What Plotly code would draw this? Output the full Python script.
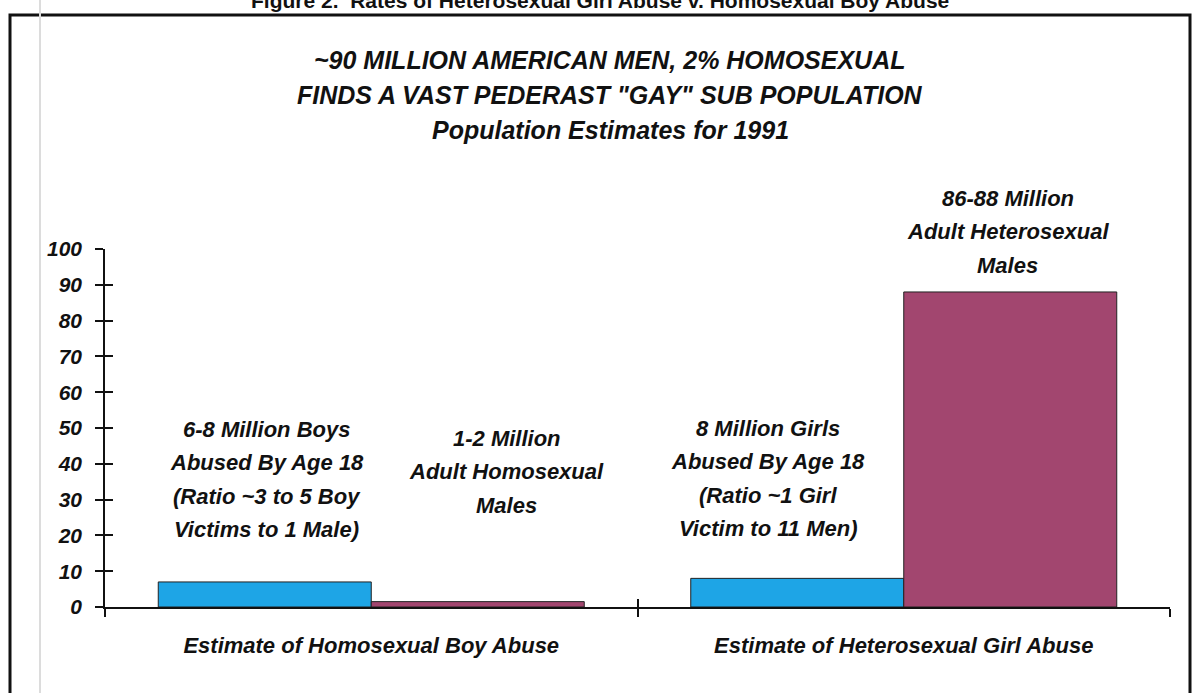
import plotly.graph_objects as go

# ---- data ----
categories = ["Estimate of Homosexual Boy Abuse", "Estimate of Heterosexual Girl Abuse"]
victims = [7, 8]          # blue series (millions)
perpetrators = [1.5, 88]  # magenta series (millions)
y_ticks = [0, 10, 20, 30, 40, 50, 60, 70, 80, 90, 100]

title_lines = [
    "~90 MILLION AMERICAN MEN, 2% HOMOSEXUAL",
    "FINDS A VAST PEDERAST \"GAY\" SUB POPULATION",
    "Population Estimates for 1991",
]
label_texts = [
    ["6-8 Million Boys", "Abused By Age 18", "(Ratio ~3 to 5 Boy", "Victims to 1 Male)"],
    ["1-2 Million", "Adult Homosexual", "Males"],
    ["8 Million Girls", "Abused By Age 18", "(Ratio ~1 Girl", "Victim to 11 Men)"],
    ["86-88 Million", "Adult Heterosexual", "Males"],
]
top_caption = "Figure 2.  Rates of Heterosexual Girl Abuse v. Homosexual Boy Abuse"

# ---- layout constants ----
W, H = 1193, 693
L, R, T, B = 105, 23, 249, 86
plot_h = H - T - B
FONT = "Liberation Sans, Arial, sans-serif"
BLUE = "#1ea5e6"
MAG = "#a2466f"
INK = "#111"

def px_to_paper(px):
    return (px - L) / (W - L - R)

def py_to_paper(py):
    return (H - B - py) / plot_h

fig = go.Figure()
fig.add_trace(go.Bar(x=categories, y=victims, marker=dict(color=BLUE, line=dict(color="#222", width=1)),
                     showlegend=False, hoverinfo="skip"))
fig.add_trace(go.Bar(x=categories, y=perpetrators, marker=dict(color=MAG, line=dict(color="#222", width=1)),
                     showlegend=False, hoverinfo="skip"))
# hidden trace so the overlay axes (inner half of the cross ticks) are drawn
fig.add_trace(go.Scatter(x=[None], y=[None], xaxis="x2", yaxis="y2", mode="markers",
                         showlegend=False, hoverinfo="skip"))

annotations = []
# label positions (category-axis x, pixel y of first line)
label_pos = [(-0.196, 429), (0.254, 438), (0.745, 428), (1.195, 198)]
line_gap = 33.5
for lines, (lx, ly0) in zip(label_texts, label_pos):
    for i, t in enumerate(lines):
        annotations.append(dict(x=lx, y=py_to_paper(ly0 + i * line_gap), xref="x", yref="paper",
                                text=t, showarrow=False, xanchor="center", yanchor="middle",
                                font=dict(family=FONT, size=22, color=INK, weight="bold", style="italic")))

title_y = [60, 95, 130]
for t, ty in zip(title_lines, title_y):
    annotations.append(dict(x=px_to_paper(610), y=py_to_paper(ty), xref="paper", yref="paper",
                            text=t, showarrow=False, xanchor="center", yanchor="middle",
                            font=dict(family=FONT, size=25, color=INK, weight="bold", style="italic")))

annotations.append(dict(x=px_to_paper(600), y=py_to_paper(0), xref="paper", yref="paper",
                        text=top_caption, showarrow=False, xanchor="center", yanchor="middle",
                        font=dict(family=FONT, size=21, color=INK, weight="bold")))

shapes = [
    dict(type="rect", xref="paper", yref="paper",
         x0=px_to_paper(10), x1=px_to_paper(1190), y0=py_to_paper(760), y1=py_to_paper(15),
         line=dict(color=INK, width=3), fillcolor="rgba(0,0,0,0)", layer="below"),
    dict(type="line", xref="paper", yref="paper",
         x0=px_to_paper(40), x1=px_to_paper(40), y0=py_to_paper(700), y1=py_to_paper(0),
         line=dict(color="#dcdcdc", width=2), layer="below"),
]

tick_font = dict(family=FONT, size=21, color=INK, weight="bold", style="italic")

fig.update_layout(
    width=W, height=H,
    margin=dict(l=L, r=R, t=T, b=B),
    paper_bgcolor="white", plot_bgcolor="white",
    barmode="group", bargap=0.2, bargroupgap=0,
    annotations=annotations, shapes=shapes,
    xaxis=dict(type="category", categoryarray=categories, range=[-0.5, 1.5],
               showline=True, linecolor=INK, linewidth=1.5,
               ticks="outside", tickson="boundaries", ticklen=8, tickcolor=INK, tickwidth=1.5,
               ticklabelstandoff=18, showgrid=False, zeroline=False,
               tickfont=dict(family=FONT, size=22, color=INK, weight="bold", style="italic")),
    yaxis=dict(range=[0, 100], tickvals=y_ticks, showline=True, linecolor=INK, linewidth=1.5,
               ticks="outside", ticklen=8, tickcolor=INK, tickwidth=1.5, showgrid=False, zeroline=False,
               ticklabelstandoff=9, tickfont=tick_font),
    xaxis2=dict(overlaying="x", anchor="y2", range=[-0.5, 1.5], tickvals=[-0.5, 0.5, 1.5], ticks="inside",
                ticklen=8, tickcolor=INK, tickwidth=1.5, showticklabels=False, showgrid=False,
                zeroline=False, showline=False, side="bottom"),
    yaxis2=dict(overlaying="y", anchor="x2", range=[0, 100], tickvals=y_ticks, ticks="inside", ticklen=8,
                tickcolor=INK, tickwidth=1.5, showticklabels=False, showgrid=False, zeroline=False,
                showline=False, side="left"),
)

fig.write_html("out.html", config={"displayModeBar": False},
               post_script="document.body.style.margin='0';document.body.style.overflow='hidden';")
